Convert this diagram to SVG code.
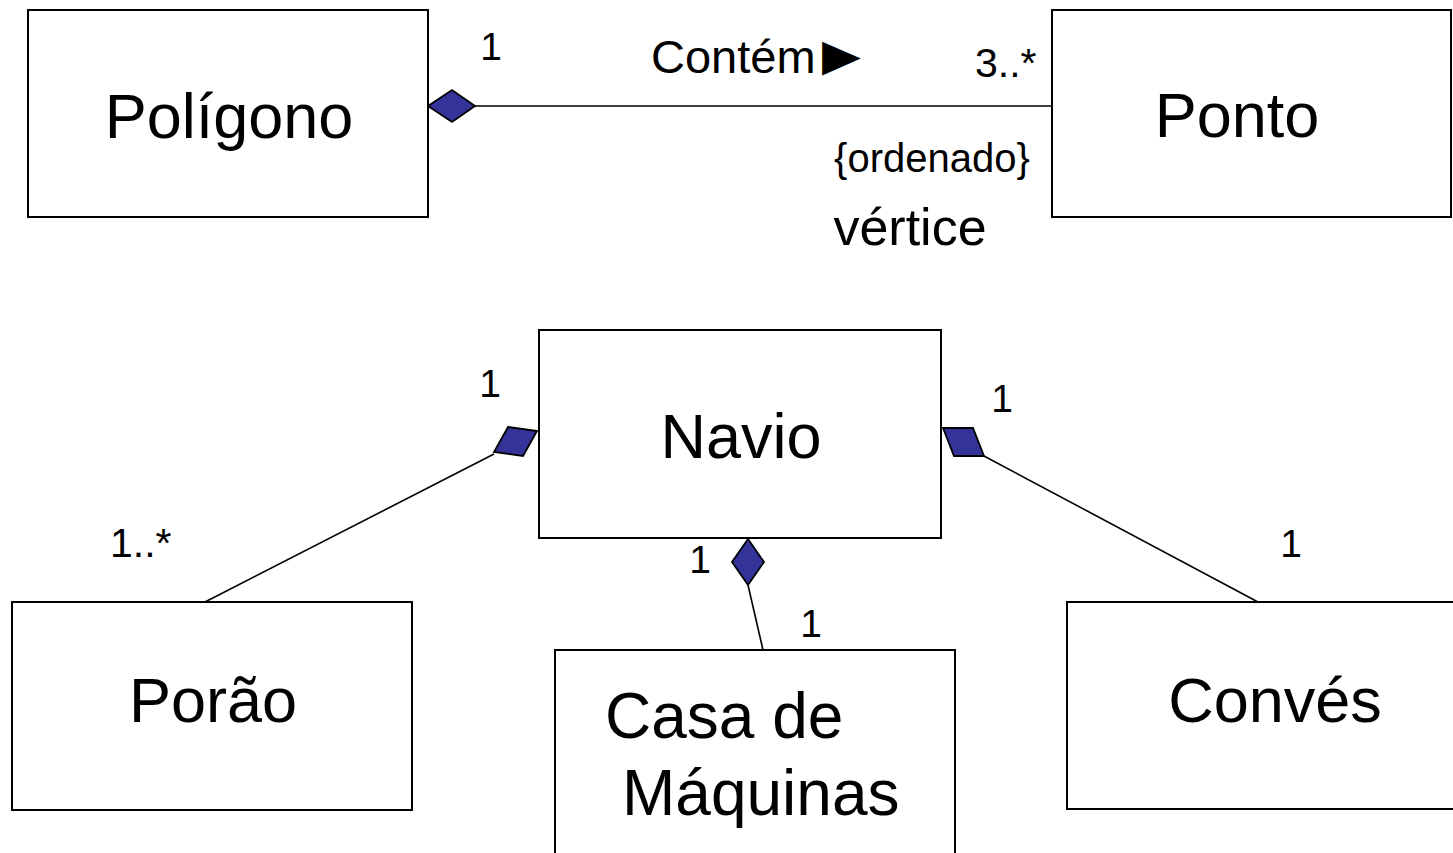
<svg xmlns="http://www.w3.org/2000/svg" width="1453" height="853" viewBox="0 0 1453 853">
<style>
.box{fill:#fff;stroke:#000;stroke-width:2}
.t{font-family:"Liberation Sans",Arial,sans-serif;fill:#000}
.big{font-size:63px;text-anchor:middle}
.lbl{font-size:41px}
.one{font-size:39px;text-anchor:middle}
.line{stroke:#000;stroke-width:1.6;fill:none}
.dia{fill:#333399;stroke:#000;stroke-width:1.8;stroke-linejoin:miter}
</style>
<rect width="1453" height="853" fill="#fff"/>
<g id="connectors">
<line class="line" x1="475" y1="106" x2="1052" y2="106"/>
<polygon class="dia" points="428,106 452,90 475,106 452,122"/>
<line class="line" x1="494" y1="454" x2="205" y2="602"/>
<polygon class="dia" points="508,427 537,431 523,456 494,452"/>
<line class="line" x1="984" y1="456" x2="1258" y2="602"/>
<polygon class="dia" points="943,428 973,428 984,456 954,456"/>
<line class="line" x1="748" y1="585" x2="763" y2="650"/>
<polygon class="dia" points="748,539 764,562 748,585 732,562"/>
<text class="t one" x="491" y="60">1</text>
<text class="t" x="651" y="73" font-size="47">Contém</text>
<text class="t" x="822" y="70" font-family="DejaVu Sans" font-size="44" textLength="39" lengthAdjust="spacingAndGlyphs">▶</text>
<text class="t lbl" x="975" y="77">3..*</text>
<text class="t" x="932" y="172" font-size="40" text-anchor="middle">{ordenado}</text>
<text class="t" x="910" y="245" font-size="52" text-anchor="middle">vértice</text>
<text class="t one" x="490" y="397">1</text>
<text class="t one" x="1002" y="412">1</text>
<text class="t lbl" x="110" y="557">1..*</text>
<text class="t one" x="700" y="573">1</text>
<text class="t one" x="811" y="637">1</text>
<text class="t one" x="1291" y="557">1</text>
</g>
<g id="poligono">
<rect class="box" x="28" y="10" width="400" height="207"/>
<text class="t big" x="229" y="138">Polígono</text>
</g>
<g id="ponto">
<rect class="box" x="1052" y="10" width="399" height="207"/>
<text class="t big" x="1237" y="137">Ponto</text>
</g>
<g id="navio">
<rect class="box" x="539" y="330" width="402" height="208"/>
<text class="t big" x="741" y="458">Navio</text>
</g>
<g id="porao">
<rect class="box" x="12" y="602" width="400" height="208"/>
<text class="t big" x="213" y="722">Porão</text>
</g>
<g id="casa-de-maquinas">
<rect class="box" x="555" y="650" width="400" height="210"/>
<text class="t" x="605" y="738" font-size="64">Casa de</text>
<text class="t" x="622" y="815" font-size="64">Máquinas</text>
</g>
<g id="conves">
<rect class="box" x="1067" y="602" width="400" height="207"/>
<text class="t big" x="1275" y="722">Convés</text>
</g>
</svg>
